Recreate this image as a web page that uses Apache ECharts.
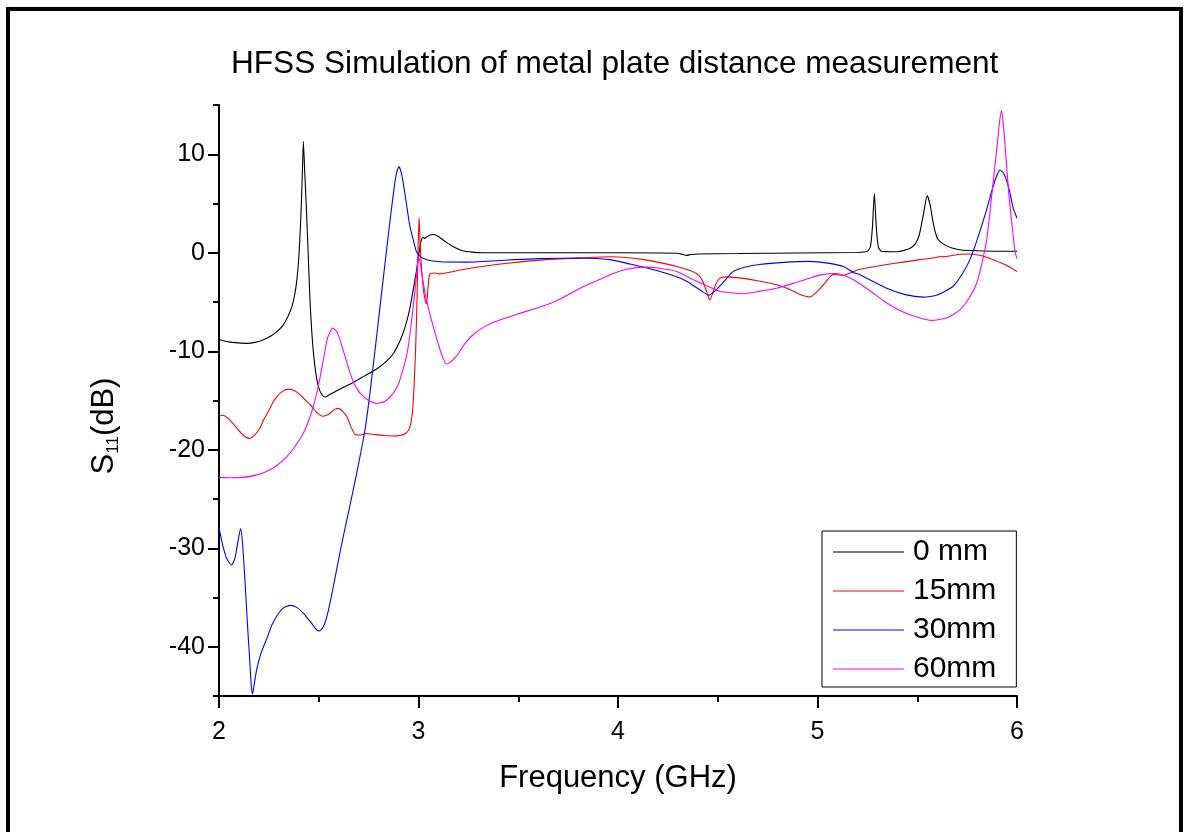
<!DOCTYPE html>
<html>
<head>
<meta charset="utf-8">
<script src="https://cdn.jsdelivr.net/npm/echarts@6/dist/echarts.min.js"></script>
<style>
html,body{margin:0;padding:0;background:#fff;}
#c{width:1190px;height:832px;}
</style>
</head>
<body>
<div id="c"></div>
<script>
var seriesNames = ['0 mm', '15mm', '30mm', '60mm'];
var xTicks = [2, 3, 4, 5, 6];
var yTicks = [-40, -30, -20, -10, 0, 10];

var s0mm = [[2.0,-8.8],[2.05,-9.05],[2.1,-9.15],[2.14,-9.2],[2.18,-9.1],[2.22,-8.85],[2.26,-8.45],[2.29,-8.0],[2.32,-7.4],[2.345,-6.5],[2.365,-5.5],[2.38,-4.2],[2.39,-2.8],[2.4,-0.5],[2.41,3.5],[2.417,7.5],[2.423,11.3],[2.429,8.5],[2.437,5.0],[2.446,0.5],[2.456,-4.8],[2.465,-8.0],[2.475,-10.5],[2.49,-12.8],[2.505,-14.0],[2.52,-14.5],[2.533,-14.65],[2.55,-14.45],[2.6,-13.9],[2.67,-13.2],[2.73,-12.5],[2.79,-11.8],[2.84,-11.0],[2.875,-10.2],[2.91,-8.8],[2.935,-7.4],[2.955,-5.8],[2.975,-3.6],[2.99,-1.8],[3.0,-0.4],[3.01,0.9],[3.018,1.5],[3.025,1.55],[3.032,1.45],[3.04,1.6],[3.055,1.78],[3.075,1.85],[3.1,1.65],[3.14,1.05],[3.18,0.55],[3.22,0.2],[3.27,0.06],[3.32,0.0],[3.6,0.0],[4.0,0.0],[4.3,-0.05],[4.325,-0.18],[4.345,-0.27],[4.365,-0.18],[4.4,-0.12],[4.6,-0.08],[4.9,-0.02],[5.2,0.03],[5.25,0.15],[5.265,0.6],[5.275,2.5],[5.285,6.0],[5.295,2.5],[5.305,0.6],[5.32,0.15],[5.4,0.1],[5.46,0.4],[5.49,0.9],[5.51,1.8],[5.53,3.8],[5.55,5.8],[5.565,4.8],[5.58,3.0],[5.6,1.5],[5.63,0.9],[5.67,0.5],[5.72,0.28],[5.8,0.2],[5.9,0.15],[6.0,0.15]];

var s15mm = [[2.0,-16.6],[2.02,-16.5],[2.05,-16.9],[2.09,-17.8],[2.12,-18.5],[2.152,-18.85],[2.18,-18.5],[2.205,-17.8],[2.225,-16.9],[2.242,-16.3],[2.25,-16.0],[2.27,-15.2],[2.29,-14.6],[2.32,-14.05],[2.348,-13.85],[2.38,-14.0],[2.406,-14.4],[2.43,-14.9],[2.456,-15.4],[2.49,-16.2],[2.52,-16.6],[2.55,-16.4],[2.575,-15.95],[2.598,-15.8],[2.62,-16.1],[2.64,-16.6],[2.66,-17.6],[2.682,-18.45],[2.71,-18.5],[2.74,-18.35],[2.78,-18.45],[2.824,-18.55],[2.87,-18.6],[2.907,-18.55],[2.935,-18.35],[2.955,-17.8],[2.968,-16.5],[2.978,-13.5],[2.986,-9.5],[2.993,-4.5],[2.998,0.5],[3.003,3.6],[3.008,1.0],[3.015,-1.5],[3.025,-3.8],[3.035,-5.0],[3.04,-5.2],[3.046,-4.0],[3.052,-2.6],[3.06,-2.1],[3.08,-2.05],[3.108,-2.15],[3.15,-2.0],[3.225,-1.7],[3.3,-1.45],[3.39,-1.2],[3.5,-0.95],[3.64,-0.7],[3.8,-0.55],[3.96,-0.4],[4.05,-0.5],[4.13,-0.7],[4.21,-1.0],[4.294,-1.39],[4.36,-1.8],[4.4,-2.2],[4.425,-2.9],[4.445,-4.0],[4.46,-4.8],[4.475,-4.1],[4.49,-3.2],[4.51,-2.6],[4.54,-2.45],[4.58,-2.5],[4.628,-2.6],[4.7,-2.85],[4.795,-3.25],[4.84,-3.55],[4.879,-3.9],[4.92,-4.3],[4.962,-4.5],[4.99,-4.1],[5.015,-3.6],[5.04,-3.0],[5.06,-2.5],[5.08,-2.2],[5.105,-2.25],[5.13,-2.3],[5.163,-2.06],[5.2,-1.75],[5.26,-1.5],[5.347,-1.2],[5.43,-0.95],[5.514,-0.7],[5.6,-0.45],[5.615,-0.35],[5.625,-0.42],[5.714,-0.15],[5.76,-0.12],[5.798,-0.2],[5.84,-0.4],[5.88,-0.7],[5.94,-1.2],[6.0,-1.9]];

var s30mm = [[2.0,-27.9],[2.02,-29.8],[2.04,-31.1],[2.063,-31.7],[2.08,-31.0],[2.095,-29.3],[2.108,-28.0],[2.118,-29.5],[2.13,-33.2],[2.142,-37.5],[2.155,-41.7],[2.162,-44.0],[2.168,-44.8],[2.175,-44.0],[2.189,-42.3],[2.21,-40.7],[2.239,-39.2],[2.265,-37.8],[2.289,-36.9],[2.32,-36.1],[2.356,-35.8],[2.39,-36.0],[2.423,-36.6],[2.46,-37.5],[2.49,-38.3],[2.503,-38.4],[2.522,-38.0],[2.54,-37.0],[2.556,-35.6],[2.573,-33.9],[2.6,-31.1],[2.623,-28.8],[2.657,-25.6],[2.69,-22.4],[2.73,-18.2],[2.757,-14.2],[2.79,-8.5],[2.824,-2.5],[2.85,2.0],[2.874,6.0],[2.89,8.1],[2.902,8.75],[2.915,8.0],[2.932,6.0],[2.945,4.2],[2.957,2.67],[2.975,1.2],[2.99,0.1],[3.01,-0.4],[3.04,-0.71],[3.108,-0.92],[3.24,-0.95],[3.41,-0.78],[3.6,-0.6],[3.81,-0.54],[3.96,-0.7],[4.06,-1.15],[4.21,-1.9],[4.31,-2.57],[4.344,-2.9],[4.41,-3.75],[4.455,-4.3],[4.48,-4.0],[4.51,-3.4],[4.545,-2.6],[4.578,-1.9],[4.63,-1.5],[4.71,-1.2],[4.83,-0.98],[4.96,-0.88],[5.05,-1.05],[5.13,-1.39],[5.18,-2.0],[5.21,-2.2],[5.347,-3.6],[5.44,-4.25],[5.53,-4.5],[5.6,-4.3],[5.68,-3.4],[5.73,-2.0],[5.764,-0.7],[5.8,1.3],[5.848,4.4],[5.88,6.7],[5.9,7.9],[5.915,8.4],[5.935,8.0],[5.95,7.2],[5.965,6.06],[5.98,4.6],[6.0,3.5]];

var s60mm = [[2.0,-22.8],[2.06,-22.85],[2.12,-22.8],[2.18,-22.6],[2.239,-22.2],[2.29,-21.6],[2.34,-20.7],[2.38,-19.7],[2.423,-18.3],[2.45,-17.0],[2.473,-15.6],[2.5,-13.3],[2.523,-10.9],[2.545,-8.6],[2.57,-7.65],[2.59,-8.0],[2.606,-8.8],[2.63,-10.4],[2.657,-12.2],[2.68,-13.4],[2.707,-14.25],[2.75,-15.0],[2.79,-15.3],[2.83,-15.1],[2.874,-14.25],[2.9,-13.3],[2.92,-12.0],[2.94,-10.5],[2.955,-8.6],[2.966,-6.8],[2.98,-4.3],[2.99,-2.3],[3.0,-0.4],[3.01,-1.2],[3.02,-2.6],[3.04,-4.8],[3.074,-7.5],[3.108,-9.85],[3.125,-10.8],[3.14,-11.3],[3.16,-11.1],[3.19,-10.5],[3.23,-9.3],[3.275,-8.3],[3.34,-7.4],[3.41,-6.8],[3.5,-6.2],[3.64,-5.3],[3.71,-4.7],[3.81,-3.6],[3.876,-3.0],[3.976,-2.1],[4.05,-1.65],[4.127,-1.46],[4.2,-1.55],[4.294,-1.9],[4.378,-2.74],[4.45,-3.4],[4.51,-3.9],[4.628,-4.16],[4.7,-3.95],[4.795,-3.6],[4.88,-3.1],[4.962,-2.57],[5.015,-2.25],[5.096,-2.1],[5.14,-2.35],[5.18,-2.74],[5.26,-3.8],[5.347,-5.1],[5.45,-6.2],[5.572,-6.87],[5.65,-6.6],[5.714,-5.8],[5.76,-4.6],[5.798,-3.1],[5.825,-1.0],[5.848,1.3],[5.865,4.2],[5.88,7.1],[5.9,10.8],[5.912,13.2],[5.923,14.45],[5.935,12.2],[5.948,8.8],[5.96,5.8],[5.975,2.8],[5.99,0.13],[6.0,-0.6]];

var FONT = '"Liberation Sans", Arial, sans-serif';
var colors = ['#000000', '#ff0000', '#0000ff', '#ff00ff'];
var chart = echarts.init(document.getElementById('c'), null, {renderer: 'canvas'});

var gridTop = 105, gridBottomPx = 696, yMin = -45, yMax = 15;
var pxPer = (gridBottomPx - gridTop) / (yMax - yMin);
function yPx(v) { return gridTop + (yMax - v) * pxPer; }

function mkSeries(name, data) {
  return {
    name: name, type: 'line', data: data, xAxisIndex: 0, yAxisIndex: 0,
    showSymbol: false, symbol: 'none', smooth: 0.2,
    lineStyle: {width: 1.1}, clip: true, animation: false
  };
}

var option = {
  animation: false,
  color: colors,
  backgroundColor: '#ffffff',
  textStyle: {fontFamily: FONT},
  title: {
    text: 'HFSS Simulation of metal plate distance measurement',
    left: 231, top: 48, padding: 0,
    textStyle: {fontFamily: FONT, fontSize: 31.6, fontWeight: 'normal', color: '#000'}
  },
  legend: {
    data: seriesNames,
    orient: 'vertical',
    left: 822, top: 531,
    padding: [6, 20, 3, 11],
    itemGap: 9,
    itemWidth: 71, itemHeight: 1.2,
    icon: 'rect',
    borderColor: '#000', borderWidth: 1,
    textStyle: {fontFamily: FONT, fontSize: 30, color: '#000', lineHeight: 30, padding: [0, 0, 0, 4]}
  },
  grid: [
    {left: 219, right: 1190 - 1017, top: gridTop, height: gridBottomPx - gridTop},
    {left: 219, right: 1190 - 1017, top: yPx(yTicks[yTicks.length - 1]), height: yPx(yTicks[0]) - yPx(yTicks[yTicks.length - 1])}
  ],
  xAxis: [
    {
      type: 'value', gridIndex: 0, min: xTicks[0], max: xTicks[xTicks.length - 1], interval: 1,
      axisLine: {show: true, onZero: false, lineStyle: {color: '#000', width: 2}},
      axisTick: {show: true, inside: false, length: 12, lineStyle: {color: '#000', width: 2}},
      minorTick: {show: true, splitNumber: 2, length: 6, lineStyle: {color: '#000', width: 2}},
      splitLine: {show: false},
      axisLabel: {show: true, margin: 24, fontFamily: FONT, fontSize: 25, color: '#000'},
      name: 'Frequency (GHz)', nameLocation: 'middle', nameGap: 67,
      nameTextStyle: {fontFamily: FONT, fontSize: 31, color: '#000'}
    },
    {
      type: 'value', gridIndex: 1, min: 2, max: 6, show: false
    }
  ],
  yAxis: [
    {
      type: 'value', gridIndex: 0, min: yMin, max: yMax, interval: 5,
      axisLine: {show: true, onZero: false, lineStyle: {color: '#000', width: 2}},
      axisTick: {show: true, inside: false, length: 6, lineStyle: {color: '#000', width: 2}},
      splitLine: {show: false},
      axisLabel: {show: false}
    },
    {
      type: 'value', gridIndex: 1, min: yTicks[0], max: yTicks[yTicks.length - 1], interval: 10,
      axisLine: {show: false},
      axisTick: {show: true, inside: false, length: 11, lineStyle: {color: '#000', width: 2}},
      splitLine: {show: false},
      axisLabel: {show: true, margin: 14, fontFamily: FONT, fontSize: 25, color: '#000'}
    }
  ],
  graphic: [
    {
      type: 'rect', z: 100, silent: true,
      shape: {x: 8, y: 9, width: 1173, height: 900},
      style: {fill: 'none', stroke: '#000', lineWidth: 4}
    },
    {
      type: 'text', z: 100, silent: true,
      x: 104, y: 426, rotation: Math.PI / 2,
      style: {
        text: '{a|S}{b|11}{a|(dB)}',
        align: 'center', verticalAlign: 'middle',
        rich: {
          a: {fontFamily: FONT, fontSize: 31, fill: '#000', lineHeight: 36, verticalAlign: 'middle'},
          b: {fontFamily: FONT, fontSize: 17, fill: '#000', lineHeight: 36, verticalAlign: 'bottom', padding: [14, 0, 0, 0]}
        }
      }
    }
  ],
  series: [
    mkSeries(seriesNames[0], s0mm),
    mkSeries(seriesNames[1], s15mm),
    mkSeries(seriesNames[2], s30mm),
    mkSeries(seriesNames[3], s60mm)
  ]
};
chart.setOption(option);
</script>
</body>
</html>
